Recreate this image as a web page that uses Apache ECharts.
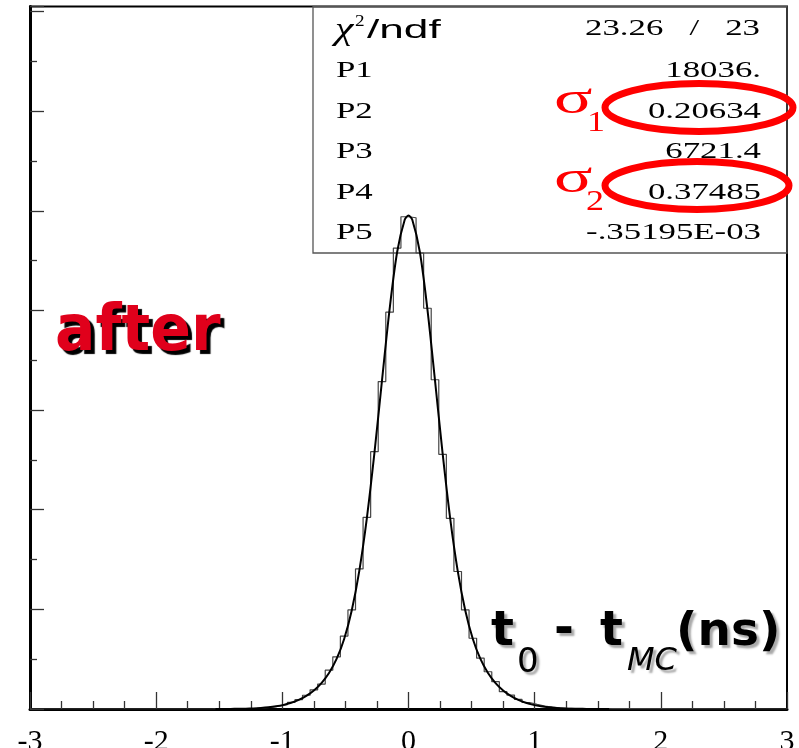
<!DOCTYPE html>
<html><head><meta charset="utf-8">
<script src="https://cdn.jsdelivr.net/npm/echarts@6/dist/echarts.min.js"></script>
<style>html,body{margin:0;padding:0;background:#fff}#c{width:799px;height:748px}</style>
</head><body><div id="c"></div>
<script>
// ---- data ----
const binLow = -1.56;      // lower edge of first non-empty bin
const binWidth = 0.06;
const histCounts = [4,6,9,16,24,38,60,92,145,220,330,470,690,960,1250,1950,2620,3660,4970,7030,9620,12910,16430,19910,23130,24700,
  24650,22880,20110,16520,12780,9570,6900,4970,3550,2550,1870,1370,870,700,480,325,230,150,95,62,40,26,17,11,7,4,15];
const fitX = [-1.53,-1.47,-1.41,-1.35,-1.29,-1.23,-1.17,-1.11,-1.05,-0.99,-0.93,-0.87,-0.81,-0.75,-0.69,-0.63,-0.57,-0.51,-0.45,-0.39,-0.33,-0.27,-0.21,-0.15,-0.09,-0.03,
  0,0.03,0.09,0.15,0.21,0.27,0.33,0.39,0.45,0.51,0.57,0.63,0.69,0.75,0.81,0.87,0.93,0.99,1.05,1.11,1.17,1.23,1.29,1.35,1.41,1.47,1.53,1.59];
const fitY = [1.6,3.1,5.7,10.3,18,31,52,84,133,206,310,457,659,933,1303,1808,2512,3514,4942,6935,9583,12848,16491,20052,22930,24546,
  24757,24546,22930,20052,16491,12848,9583,6935,4942,3514,2512,1808,1303,933,659,457,310,206,133,84,52,31,18,10.3,5.7,3.1,1.6,0.8];
const xRange = [-3, 3];
const yRange = [0, 35250];
const chi2Text = '23.26   /   23';
const statNames = ['P1','P2','P3','P4','P5'];
const statValues = ['18036.','0.20634','6721.4','0.37485','-.35195E-03'];

// ---- build series data ----
const histPts = [[xRange[0], 0]];
histCounts.forEach((c, i) => histPts.push([binLow + i * binWidth, c]));
const histEnd = binLow + histCounts.length * binWidth;
histPts.push([histEnd, 0]);
histPts.push([xRange[1], 0]);
const fitPts = fitX.map((x, i) => [x, fitY[i]]);

const chart = echarts.init(document.getElementById('c'), null, {renderer: 'canvas'});

const serif = 'Liberation Serif, Times New Roman, serif';
const sans = 'Liberation Sans, Arial, sans-serif';
const comic = 'DejaVu Sans, sans-serif';
function txt(x, y, text, o) {
  o = o || {};
  return {
    type: 'text', x: x, y: y, z: 100, scaleX: o.sx || 1, scaleY: o.sy || 1,
    style: {
      text: text, fontSize: o.size || 24, fontFamily: o.family || serif,
      fontWeight: o.weight || 'normal', fontStyle: o.style || 'normal',
      fill: o.color || '#000',
      align: o.align || 'left', textAlign: o.align || 'left',
      verticalAlign: 'middle', textVerticalAlign: 'middle',
      shadowColor: o.shadow, shadowOffsetX: o.sox || 0, shadowOffsetY: o.soy || 0, shadowBlur: o.sblur || 0,
      textShadowColor: o.shadow, textShadowOffsetX: o.sox || 0, textShadowOffsetY: o.soy || 0, textShadowBlur: o.sblur || 0
    }
  };
}

const rowY = [71, 112, 152, 193, 233];
const graphics = [
  {type: 'rect', z: 1, shape: {x: 313, y: 6.5, width: 474, height: 246.5}, style: {fill: 'rgba(0,0,0,0)', stroke: '#555', lineWidth: 1.3}},
  txt(335, 31, 'χ', {size: 32, style: 'italic', sx: 1.3}),
  txt(355, 22, '2', {size: 16, sx: 1.2}),
  txt(367, 31, '/ndf', {size: 26, family: sans, sx: 1.7}),
  txt(760, 29, chi2Text, {size: 24, align: 'right', sx: 1.45})
];
statNames.forEach((n, i) => {
  graphics.push(txt(336, rowY[i], n, {size: 24, sx: 1.45}));
  graphics.push(txt(761, rowY[i], statValues[i], {size: 24, align: 'right', sx: 1.45}));
});
graphics.push(
  {type: 'ellipse', z: 90, shape: {cx: 699, cy: 107.5, rx: 94, ry: 24}, style: {fill: 'rgba(0,0,0,0)', stroke: '#f00', lineWidth: 7}},
  {type: 'ellipse', z: 90, shape: {cx: 697, cy: 185.5, rx: 92, ry: 24}, style: {fill: 'rgba(0,0,0,0)', stroke: '#f00', lineWidth: 7}},
  txt(554, 101, 'σ', {size: 46, color: '#f00', sx: 1.55}),
  txt(587, 123, '1', {size: 30, color: '#f00', sx: 1.2}),
  txt(554, 180, 'σ', {size: 46, color: '#f00', sx: 1.55}),
  txt(586, 202, '2', {size: 30, color: '#f00', sx: 1.2}),
  txt(55, 333, 'after', {size: 60, family: comic, weight: 'bold', color: '#e0001b', shadow: '#000', sox: 4, soy: 4, sblur: 1, sy: 1.08}),
  txt(491, 633, 't', {size: 48, family: comic, weight: 'bold', shadow: '#aaa', sox: 3, soy: 3, sblur: 2}),
  txt(517, 663, '0', {size: 34, family: comic, shadow: '#aaa', sox: 3, soy: 3, sblur: 2}),
  txt(554, 631, '-', {size: 48, family: comic, weight: 'bold', shadow: '#aaa', sox: 3, soy: 3, sblur: 2}),
  txt(600, 633, 't', {size: 48, family: comic, weight: 'bold', shadow: '#aaa', sox: 3, soy: 3, sblur: 2}),
  txt(627, 662, 'MC', {size: 32, family: comic, style: 'italic', shadow: '#aaa', sox: 3, soy: 3, sblur: 2}),
  txt(676, 633, '(ns)', {size: 47, family: comic, weight: 'bold', shadow: '#aaa', sox: 3, soy: 3, sblur: 2})
);

chart.setOption({
  animation: false,
  backgroundColor: '#fff',
  grid: {left: 30, right: 12, top: 6.5, bottom: 39, containLabel: false, outerBoundsMode: 'none',
         show: true, borderColor: '#000', borderWidth: 2, backgroundColor: 'rgba(0,0,0,0)'},
  xAxis: {
    type: 'value', min: xRange[0], max: xRange[1], interval: 1,
    axisLine: {show: true, onZero: false, lineStyle: {color: '#000', width: 3}},
    axisTick: {show: true, inside: true, length: 17, lineStyle: {color: '#333', width: 1.3}},
    minorTick: {show: true, splitNumber: 4, length: 8, lineStyle: {color: '#333', width: 1.3}},
    splitLine: {show: false},
    axisLabel: {show: true, fontSize: 30, fontFamily: serif, color: '#000', margin: 18, hideOverlap: false}
  },
  yAxis: {
    type: 'value', min: yRange[0], max: yRange[1], interval: 5000,
    axisLine: {show: true, onZero: false, lineStyle: {color: '#000', width: 3}},
    axisTick: {show: true, inside: true, length: 14, lineStyle: {color: '#333', width: 1.3}},
    minorTick: {show: true, splitNumber: 2, length: 7, lineStyle: {color: '#333', width: 1.3}},
    splitLine: {show: false},
    axisLabel: {show: false}
  },
  series: [
    {type: 'line', name: 'histogram', data: histPts, step: 'end', symbol: 'none', z: 3,
     lineStyle: {color: '#444', width: 1.2}},
    {type: 'line', name: 'fit', data: fitPts, smooth: 0.3, symbol: 'none', z: 4,
     lineStyle: {color: '#000', width: 2}}
  ],
  graphic: graphics
});
</script>
</body></html>
